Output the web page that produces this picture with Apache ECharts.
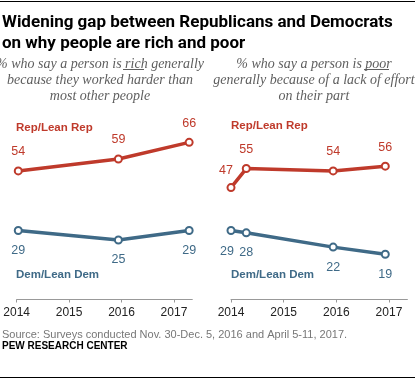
<!DOCTYPE html>
<html><head><meta charset="utf-8">
<script src="https://cdn.jsdelivr.net/npm/echarts@6/dist/echarts.min.js"></script>
<style>html,body{margin:0;padding:0;background:#fff}#c{width:415px;height:379px}</style>
</head><body><div id="c"></div>
<script>
// Data
var tickYears = [2014, 2015, 2016, 2017];
var leftDates = [2014.03, 2015.94, 2017.29];
var leftRep = [54, 59, 66];
var leftDem = [29, 25, 29];
var rightDates = [2014.0, 2014.29, 2015.94, 2016.93];
var rightRep = [47, 55, 54, 56];
var rightDem = [29, 28, 22, 19];

var REP = '#bf3a2b', DEM = '#3f6a87', AX = '#999';

function pairs(xs, ys, labelOverrides) {
  return xs.map(function (x, i) {
    var d = { value: [x, ys[i]] };
    if (labelOverrides && labelOverrides[i]) d.label = labelOverrides[i];
    return d;
  });
}
function mkSeries(name, xi, data, color, pos, dist) {
  return {
    name: name, type: 'line', xAxisIndex: xi, yAxisIndex: xi, data: data,
    symbol: 'circle', symbolSize: 7, showSymbol: true,
    lineStyle: { color: color, width: 3.5 },
    itemStyle: { color: '#fff', borderColor: color, borderWidth: 2 },
    label: { show: true, position: pos, distance: dist, color: color,
      fontFamily: 'Liberation Sans', fontSize: 12.5,
      formatter: function (p) { return p.value[1]; } },
    emphasis: { disabled: true }, animation: false
  };
}
function xAx(gi) {
  return {
    type: 'value', gridIndex: gi, min: 2014, max: 2017.35,
    axisLine: { show: true, lineStyle: { color: AX, width: 1 } },
    axisTick: { show: true, length: 3, lineStyle: { color: AX }, customValues: tickYears },
    axisLabel: { color: '#222', fontFamily: 'Liberation Sans', fontSize: 12, margin: 7,
      customValues: tickYears, formatter: function (v) { return String(Math.round(v)); } },
    splitLine: { show: false }
  };
}
function yAx(gi) {
  return { type: 'value', gridIndex: gi, min: 0, max: 80, show: false, splitLine: { show: false } };
}

var chart = echarts.init(document.getElementById('c'), null, { renderer: 'canvas' });
var sub = { fontFamily: 'Liberation Serif', fontStyle: 'italic', fontWeight: 'normal', fontSize: 14, lineHeight: 16.3, color: '#5e5e5e' };
chart.setOption({
  backgroundColor: '#fff',
  animation: false,
  title: [
    { text: 'Widening gap between Republicans and Democrats\non why people are rich and poor', left: 2, top: 12.5, padding: 0,
      textStyle: { fontFamily: 'Roboto', fontWeight: 'bold', fontSize: 17, lineHeight: 21, color: '#000' } },
    { text: '% who say a person is rich generally\nbecause they worked harder than\nmost other people', left: 100, top: 56, padding: 0, textAlign: 'center',
      textStyle: sub },
    { text: '% who say a person is poor\ngenerally because of a lack of effort\non their part', left: 314, top: 56, padding: 0, textAlign: 'center',
      textStyle: sub },
    { text: 'Source: Surveys conducted Nov. 30-Dec. 5, 2016 and April 5-11, 2017.', left: 2, top: 329, padding: 0,
      textStyle: { fontFamily: 'Liberation Sans', fontWeight: 'normal', fontSize: 11, color: '#777' } },
    { text: 'PEW RESEARCH CENTER', left: 2, top: 341, padding: 0,
      textStyle: { fontFamily: 'Liberation Sans', fontWeight: 'bold', fontSize: 10, color: '#000' } }
  ],
  grid: [
    { left: 16.7, top: 109, width: 175.6, height: 190.5 },
    { left: 231, top: 109, width: 176.4, height: 190.5 }
  ],
  xAxis: [xAx(0), xAx(1)],
  yAxis: [yAx(0), yAx(1)],
  series: [
    mkSeries('Rep L', 0, pairs(leftDates, leftRep), REP, 'top', 8),
    mkSeries('Dem L', 0, pairs(leftDates, leftDem), DEM, 'bottom', 9),
    mkSeries('Rep R', 1, pairs(rightDates, rightRep, [{ offset: [-5, 2] }]), REP, 'top', 8),
    mkSeries('Dem R', 1, pairs(rightDates, rightDem, [{ offset: [-4, 1] }]), DEM, 'bottom', 9)
  ],
  graphic: [
    { type: 'line', shape: { x1: 0, y1: 1.5, x2: 415, y2: 1.5 }, style: { stroke: '#000', lineWidth: 1 }, silent: true },
    { type: 'line', shape: { x1: 0, y1: 377.5, x2: 415, y2: 377.5 }, style: { stroke: '#000', lineWidth: 1 }, silent: true },
    { type: 'line', shape: { x1: 123, y1: 69.5, x2: 144, y2: 69.5 }, style: { stroke: '#5e5e5e', lineWidth: 1 }, silent: true },
    { type: 'line', shape: { x1: 364, y1: 69.5, x2: 389, y2: 69.5 }, style: { stroke: '#5e5e5e', lineWidth: 1 }, silent: true },
    { type: 'text', left: 16, top: 122, silent: true, style: { text: 'Rep/Lean Rep', fill: REP, font: 'bold 11.5px "Liberation Sans"' } },
    { type: 'text', left: 16, top: 269, silent: true, style: { text: 'Dem/Lean Dem', fill: DEM, font: 'bold 11.5px "Liberation Sans"' } },
    { type: 'text', left: 231, top: 120, silent: true, style: { text: 'Rep/Lean Rep', fill: REP, font: 'bold 11.5px "Liberation Sans"' } },
    { type: 'text', left: 231, top: 269, silent: true, style: { text: 'Dem/Lean Dem', fill: DEM, font: 'bold 11.5px "Liberation Sans"' } }
  ]
});
</script></body></html>
